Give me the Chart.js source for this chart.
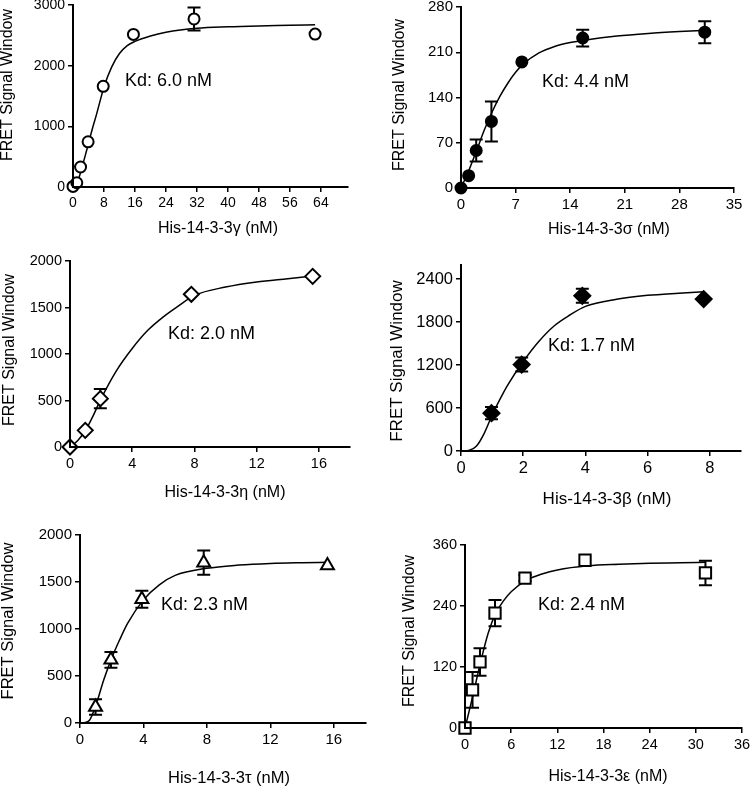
<!DOCTYPE html>
<html>
<head>
<meta charset="utf-8">
<script src="https://cdn.jsdelivr.net/npm/chart.js@4"></script>
<style>
  html, body { margin: 0; padding: 0; background: #fff; overflow: hidden; width: 750px; height: 790px; }
  canvas { position: absolute; }
</style>
</head>
<body>
<script>
// --- data ---
const gammaConc   = [0, 0.98, 1.95, 3.9, 7.8, 15.6, 31.25, 62.5];
const gammaSignal = [10, 70, 330, 745, 1660, 2515, 2770, 2520];
const gammaErr    = [0, 0, 0, 0, 0, 0, 190, 0];
const gammaFitX   = [0, 1, 2, 3, 4, 5, 6, 7, 8, 10, 12, 14, 16, 20, 24, 32, 40, 48, 56, 62.5];
const gammaFitY   = [0, 60, 250, 480, 720, 960, 1180, 1420, 1650, 1980, 2200, 2330, 2400, 2490, 2550, 2615, 2640, 2655, 2665, 2675];
const gammaXTicks = [0, 8, 16, 24, 32, 40, 48, 56, 64];
const gammaYTicks = [0, 1000, 2000, 3000];

const sigmaConc   = [0, 0.98, 1.95, 3.9, 7.8, 15.6, 31.25];
const sigmaSignal = [0, 19, 58, 103, 195, 232, 241];
const sigmaErr    = [0, 0, 17, 31, 0, 13, 17];
const sigmaFitX   = [0, 1, 2, 3, 4, 5, 6, 7, 8, 10, 12, 14, 16, 20, 24, 28, 31.25];
const sigmaFitY   = [0, 27, 58, 90, 118, 142, 162, 179, 192, 209, 219, 225, 229, 235, 239, 242, 244];
const sigmaXTicks = [0, 7, 14, 21, 28, 35];
const sigmaYTicks = [0, 70, 140, 210, 280];

const etaConc   = [0, 0.98, 1.95, 7.8, 15.6];
const etaSignal = [0, 179, 520, 1642, 1835];
const etaErr    = [0, 0, 104, 0, 0];
const etaFitX   = [0, 0.5, 1, 1.5, 2, 3, 4, 5, 6, 7, 8, 10, 12, 14, 15.6];
const etaFitY   = [0, 70, 180, 340, 520, 825, 1060, 1255, 1400, 1520, 1630, 1720, 1775, 1810, 1838];
const etaXTicks = [0, 4, 8, 12, 16];
const etaYTicks = [0, 500, 1000, 1500, 2000];

const betaConc   = [0.98, 1.95, 3.9, 7.8];
const betaSignal = [529, 1207, 2168, 2122];
const betaErr    = [84, 98, 98, 0];
const betaFitX   = [0, 0.25, 0.5, 0.75, 1, 1.25, 1.5, 2, 2.5, 3, 3.5, 4, 5, 6, 7, 7.8];
const betaFitY   = [0, 8, 70, 250, 500, 720, 920, 1250, 1530, 1750, 1900, 2020, 2120, 2175, 2205, 2225];
const betaXTicks = [0, 2, 4, 6, 8];
const betaYTicks = [0, 600, 1200, 1800, 2400];

const tauConc   = [0.98, 1.95, 3.9, 7.8, 15.6];
const tauSignal = [170, 672, 1317, 1706, 1675];
const tauErr    = [82, 83, 90, 130, 0];
const tauFitX   = [0.2, 0.6, 1, 1.5, 2, 2.5, 3, 4, 5, 6, 8, 10, 12, 14, 15.6];
const tauFitY   = [0, 30, 190, 460, 690, 885, 1060, 1310, 1470, 1570, 1646, 1680, 1698, 1706, 1710];
const tauXTicks = [0, 4, 8, 12, 16];
const tauYTicks = [0, 500, 1000, 1500, 2000];

const epsConc   = [0, 0.98, 1.95, 3.9, 7.8, 15.6, 31.25];
const epsSignal = [0, 75, 130, 226, 295, 330, 305];
const epsErr    = [0, 35, 27, 26, 6, 0, 24];
const epsFitX   = [0, 1, 2, 3, 4, 5, 6, 8, 10, 12, 16, 20, 24, 28, 31.25];
const epsFitY   = [0, 62, 128, 186, 226, 250, 268, 291, 303, 311, 319, 322, 324, 325, 326];
const epsXTicks = [0, 6, 12, 18, 24, 30, 36];
const epsYTicks = [0, 120, 240, 360];

const FONT = '"Liberation Sans", Arial, Helvetica, sans-serif';
const yTitle = 'FRET Signal Window';

// area = [left, top, right, bottom] of the plot in page px, cell = [left, right, bottom]
const panels = [
  { conc: gammaConc, signal: gammaSignal, err: gammaErr, fitX: gammaFitX, fitY: gammaFitY,
    xTicks: gammaXTicks, yTicks: gammaYTicks, xMax: 71, yMax: 3000,
    xTitle: 'His-14-3-3γ (nM)', kd: 'Kd: 6.0 nM',
    style: 'circle', radius: 5.5, fill: '#fff', tick: 14, title: 16,
    area: [73, 5, 348, 187], cell: [0, 375, 258],
    kdPos: [125, 81], xTitlePos: [218, 229], yTitlePos: [8, 85] },
  { conc: sigmaConc, signal: sigmaSignal, err: sigmaErr, fitX: sigmaFitX, fitY: sigmaFitY,
    xTicks: sigmaXTicks, yTicks: sigmaYTicks, xMax: 35, yMax: 280,
    xTitle: 'His-14-3-3σ (nM)', kd: 'Kd: 4.4 nM',
    style: 'circle', radius: 5.5, fill: '#000', tick: 15, title: 16,
    area: [461, 7, 734, 188], cell: [375, 770, 258],
    kdPos: [542, 82], xTitlePos: [609, 230], yTitlePos: [400, 95] },
  { conc: etaConc, signal: etaSignal, err: etaErr, fitX: etaFitX, fitY: etaFitY,
    xTicks: etaXTicks, yTicks: etaYTicks, xMax: 18, yMax: 2000,
    xTitle: 'His-14-3-3η (nM)', kd: 'Kd: 2.0 nM',
    style: 'rectRot', radius: 7.5, fill: '#fff', tick: 14.5, title: 16,
    area: [70, 261, 350, 447], cell: [0, 375, 516],
    kdPos: [168, 334], xTitlePos: [225, 493], yTitlePos: [10, 350] },
  { conc: betaConc, signal: betaSignal, err: betaErr, fitX: betaFitX, fitY: betaFitY,
    xTicks: betaXTicks, yTicks: betaYTicks, xMax: 9, yMax: 2600,
    xTitle: 'His-14-3-3β (nM)', kd: 'Kd: 1.7 nM',
    style: 'rectRot', radius: 8, fill: '#000', tick: 16.5, title: 17,
    area: [461, 264, 741, 451], cell: [375, 770, 516],
    kdPos: [548, 346], xTitlePos: [607, 499], yTitlePos: [397, 361] },
  { conc: tauConc, signal: tauSignal, err: tauErr, fitX: tauFitX, fitY: tauFitY,
    xTicks: tauXTicks, yTicks: tauYTicks, xMax: 18, yMax: 2000,
    xTitle: 'His-14-3-3τ (nM)', kd: 'Kd: 2.3 nM',
    style: 'triangle', radius: 7.5, fill: '#fff', tick: 15, title: 16.5,
    area: [80, 535, 367, 723], cell: [0, 375, 790],
    kdPos: [161, 605], xTitlePos: [229, 778], yTitlePos: [8, 621] },
  { conc: epsConc, signal: epsSignal, err: epsErr, fitX: epsFitX, fitY: epsFitY,
    xTicks: epsXTicks, yTicks: epsYTicks, xMax: 36, yMax: 360,
    xTitle: 'His-14-3-3ε (nM)', kd: 'Kd: 2.4 nM',
    style: 'rect', radius: 8, fill: '#fff', tick: 14.5, title: 16,
    area: [465, 545, 742, 728], cell: [375, 770, 790],
    kdPos: [538, 605], xTitlePos: [608, 777], yTitlePos: [410, 631] }
];

function axis(p, ticks, max, fit) {
  return {
    type: 'linear', min: 0, max: max,
    afterFit: fit,
    afterBuildTicks: s => { s.ticks = ticks.map(v => ({ value: v })); },
    grid: { drawOnChartArea: false, drawTicks: true, tickLength: 5, color: '#000', lineWidth: 1.5 },
    border: { color: '#000', width: 2, z: 1 },
    ticks: { color: '#000', font: { family: FONT, size: p.tick }, padding: 3, maxRotation: 0,
             autoSkip: false, callback: v => String(v) }
  };
}

panels.forEach(p => {
  const [aL, aT, aR, aB] = p.area;
  const [cL, cR, cB] = p.cell;
  const cT = aT - 12;
  const canvas = document.createElement('canvas');
  canvas.width = cR - cL;
  canvas.height = cB - cT;
  canvas.style.left = cL + 'px';
  canvas.style.top = cT + 'px';
  canvas.style.width = (cR - cL) + 'px';
  canvas.style.height = (cB - cT) + 'px';
  document.body.appendChild(canvas);

  const errorBars = {
    id: 'errorBars',
    beforeDatasetDraw(chart, args) {
      if (args.index !== 0) return;
      const { ctx, scales: { x, y } } = chart;
      ctx.save();
      ctx.strokeStyle = '#000';
      ctx.lineWidth = 2;
      p.conc.forEach((c, i) => {
        const e = p.err[i];
        if (!e) return;
        const px = x.getPixelForValue(c);
        const top = y.getPixelForValue(p.signal[i] + e);
        const bot = y.getPixelForValue(p.signal[i] - e);
        ctx.beginPath();
        ctx.moveTo(px, top); ctx.lineTo(px, bot);
        ctx.moveTo(px - 6.5, top); ctx.lineTo(px + 6.5, top);
        ctx.moveTo(px - 6.5, bot); ctx.lineTo(px + 6.5, bot);
        ctx.stroke();
      });
      ctx.restore();
    }
  };

  const panelText = {
    id: 'panelText',
    afterDraw(chart) {
      const ctx = chart.ctx;
      ctx.save();
      ctx.fillStyle = '#000';
      ctx.textBaseline = 'middle';
      ctx.font = '18px ' + FONT;
      ctx.textAlign = 'left';
      ctx.fillText(p.kd, p.kdPos[0] - cL, p.kdPos[1] - cT);
      ctx.font = p.title + 'px ' + FONT;
      ctx.textAlign = 'center';
      ctx.fillText(p.xTitle, p.xTitlePos[0] - cL, p.xTitlePos[1] - cT);
      ctx.translate(p.yTitlePos[0] - cL, p.yTitlePos[1] - cT);
      ctx.rotate(-Math.PI / 2);
      ctx.fillText(yTitle, 0, 0);
      ctx.restore();
    }
  };

  new Chart(canvas, {
    type: 'scatter',
    data: {
      datasets: [
        {
          data: p.conc.map((x, i) => ({ x: x, y: p.signal[i] })),
          pointStyle: p.style, pointRadius: p.radius, pointBorderWidth: 2,
          pointBackgroundColor: p.fill, pointBorderColor: '#000',
          showLine: false, clip: false
        },
        {
          data: p.fitX.map((x, i) => ({ x: x, y: p.fitY[i] })),
          showLine: true, borderColor: '#000', borderWidth: 1.5, pointRadius: 0,
          tension: 0.4, cubicInterpolationMode: 'monotone', clip: false
        }
      ]
    },
    options: {
      responsive: false, animation: false, devicePixelRatio: 1,
      layout: { padding: { top: aT - cT, right: cR - aR, left: 0, bottom: 0 } },
      plugins: { legend: { display: false }, tooltip: { enabled: false } },
      scales: {
        x: axis(p, p.xTicks, p.xMax, s => { s.height = cB - aB; }),
        y: axis(p, p.yTicks, p.yMax, s => { s.width = aL - cL; })
      }
    },
    plugins: [errorBars, panelText]
  });
});
</script>
</body>
</html>
